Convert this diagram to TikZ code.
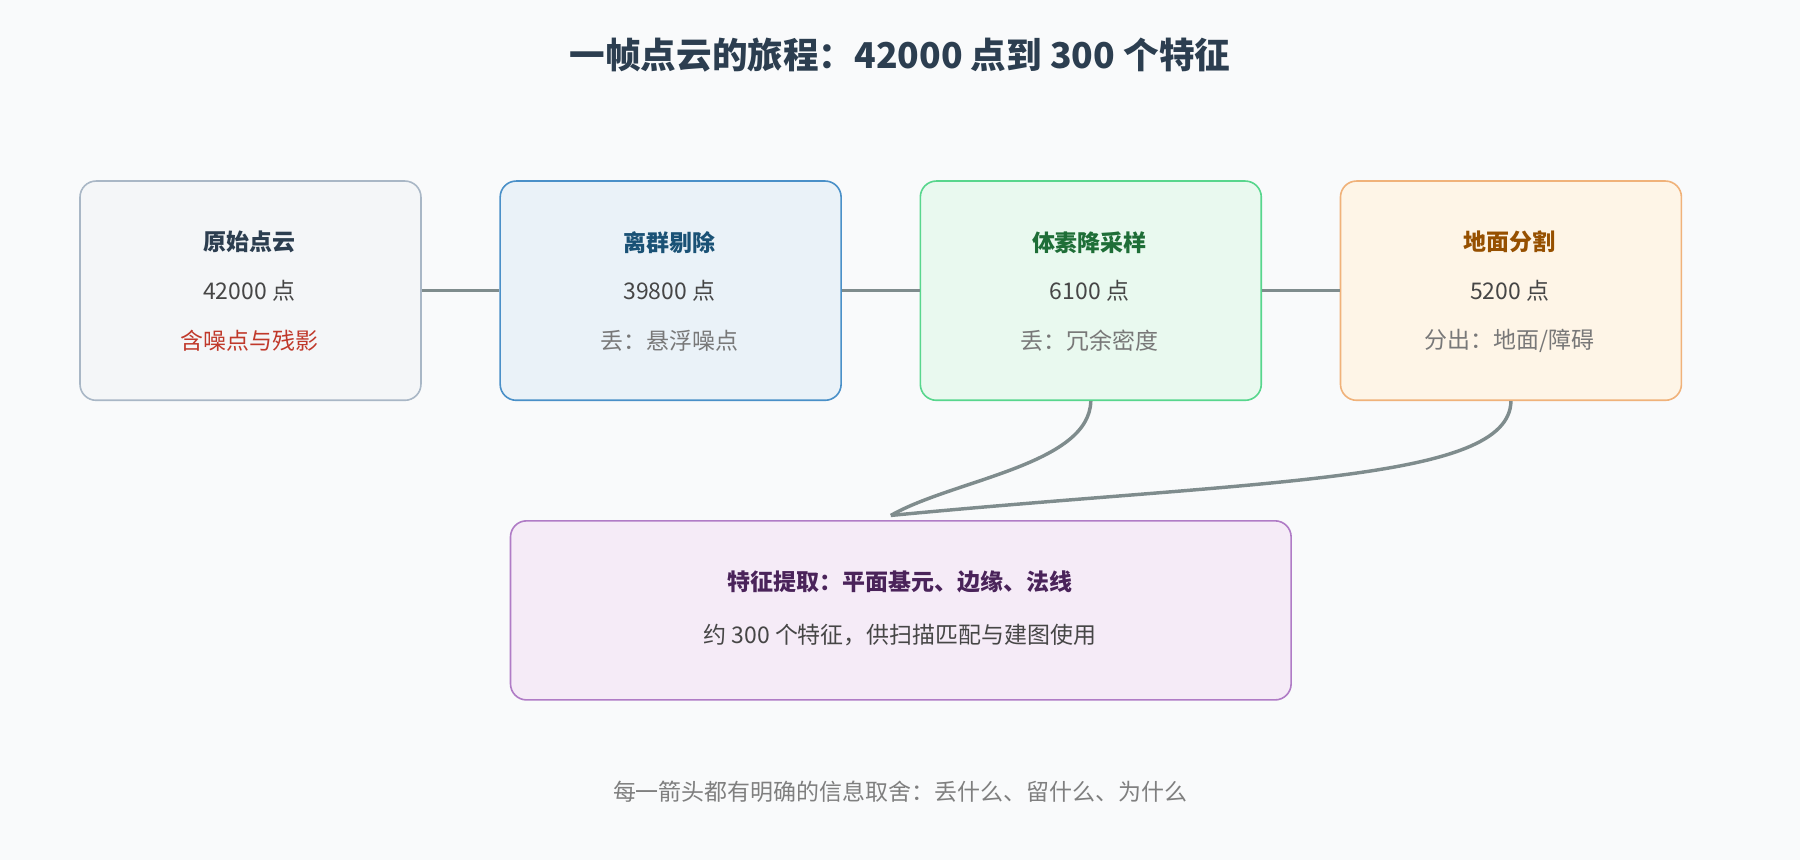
\documentclass[tikz,border=0pt]{standalone}
\usepackage{fontspec}
\setmainfont{Noto Sans CJK SC}
\definecolor{bg}{HTML}{F9FAFB}
\definecolor{ln}{HTML}{7F8C8D}
\definecolor{ttl}{HTML}{2C3E50}
\definecolor{fa}{HTML}{F4F6F8}\definecolor{da}{HTML}{A9B7C6}
\definecolor{fb}{HTML}{EAF2F8}\definecolor{db}{HTML}{4A90C8}
\definecolor{fc}{HTML}{E9F9EF}\definecolor{dc}{HTML}{58D68D}
\definecolor{fd}{HTML}{FEF5E7}\definecolor{dd}{HTML}{F0B27A}
\definecolor{fe}{HTML}{F5EBF7}\definecolor{de}{HTML}{B07CC6}
\definecolor{hb}{HTML}{1A5276}\definecolor{hc}{HTML}{1E6E37}
\definecolor{hd}{HTML}{965000}\definecolor{he}{HTML}{4A235A}
\definecolor{red}{HTML}{C0392B}
\definecolor{num}{HTML}{464646}\definecolor{sub}{HTML}{787878}\definecolor{foot}{HTML}{7F7F7F}
\begin{document}
\begin{tikzpicture}[x=0.5pt,y=-0.5pt,
  box/.style={rounded corners=7pt,line width=0.7pt,minimum width=148.5pt,minimum height=95.5pt,anchor=north west},
  t/.style={font=\fontsize{10}{12}\selectfont},
  h/.style={font=\fontsize{10}{12}\selectfont\bfseries},
  link/.style={draw=ln,line width=1.5pt}]
\fill[bg] (0,0) rectangle (1568,749);
\useasboundingbox (0,0) rectangle (1568,749);
\node[font=\fontsize{15.5}{18}\selectfont\bfseries,text=ttl] (title) at (784,48) {一帧点云的旅程：42000 点到 300 个特征};
\node[box,fill=fa,draw=da] (a) at (69,157) {};
\node[box,fill=fb,draw=db] (b) at (435,157) {};
\node[box,fill=fc,draw=dc] (c) at (801,157) {};
\node[box,fill=fd,draw=dd] (d) at (1167,157) {};
\node[box,minimum width=340pt,minimum height=78pt,fill=fe,draw=de] (e) at (444,453) {};
\node[h,text=ttl] (a1) at (217,211) {原始点云};
\node[t,text=num] (a2) at (217,253) {42000 点};
\node[t,text=red] (a3) at (217,297) {含噪点与残影};
\node[h,text=hb] (b1) at (583,211) {离群剔除};
\node[t,text=num] (b2) at (583,253) {39800 点};
\node[t,text=sub] (b3) at (583,297) {丢：悬浮噪点};
\node[h,text=hc] (c1) at (949,211) {体素降采样};
\node[t,text=num] (c2) at (949,253) {6100 点};
\node[t,text=sub] (c3) at (949,297) {丢：冗余密度};
\node[h,text=hd] (d1) at (1315,211) {地面分割};
\node[t,text=num] (d2) at (1315,253) {5200 点};
\node[t,text=sub] (d3) at (1315,297) {分出：地面/障碍};
\node[h,text=he] (e1) at (784,507) {特征提取：平面基元、边缘、法线};
\node[t,text=num] (e2) at (784,553) {约 300 个特征，供扫描匹配与建图使用};
\node[t,text=foot] (f) at (784,690) {每一箭头都有明确的信息取舍：丢什么、留什么、为什么};
\coordinate (m) at (776,449);
\draw[link] (a.east) -- (b.west);
\draw[link] (b.east) -- (c.west);
\draw[link] (c.east) -- (d.west);
\draw[link] (c.south) .. controls (949,405) and (830,418) .. (m);
\draw[link] (d.south) .. controls (1315,420) and (1100,418) .. (m);
\end{tikzpicture}
\end{document}
